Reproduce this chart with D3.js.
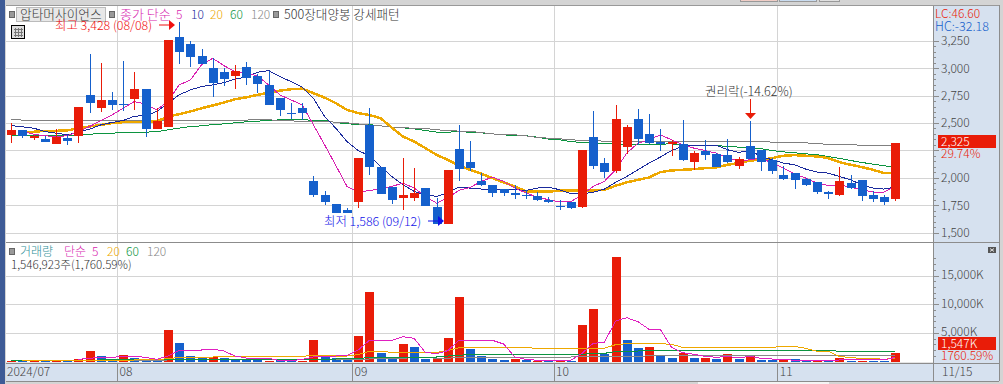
<!DOCTYPE html>
<html>
<head>
<meta charset="utf-8">
<script src="https://cdn.jsdelivr.net/npm/d3@7"></script>
<style>
  html, body { margin: 0; padding: 0; background: #c8c8c8; }
  svg { display: block; }
  text { font-family: "Noto Sans CJK KR", "Noto Sans", sans-serif; font-size: 12px; font-weight: 300; }
</style>
</head>
<body>
<div id="chart"></div>
<script>
// daily candles, left to right
const opens = [2399,2442,2363,2360,2317,2369,2381,2761,2645,2715,2679,2727,2815,2445,2472,3289,3226,3116,3007,2970,2937,3016,2934,2852,2733,2600,2642,1977,1849,1767,1713,1779,2487,2105,1922,1816,1816,1913,1740,1586,2269,2150,1971,1941,1904,1868,1849,1840,1804,1746,1786,1734,2378,2141,2062,2281,2542,2405,2332,2311,2314,2144,2250,2223,2214,2114,2296,2260,2168,2032,2050,1995,1968,1877,1843,1959,1986,1849,1831,1813];
const highs = [2503,2442,2396,2387,2448,2396,2651,3134,3052,2788,3071,2970,2815,2642,3262,3428,3253,3180,3098,3007,3034,3062,2952,2980,2733,2688,2688,2023,1886,1767,1731,2187,2642,2105,1922,2187,2095,1913,1822,2077,2487,2342,2050,1941,1904,1934,1895,1877,1831,1804,1786,2260,2615,2187,2670,2487,2633,2588,2451,2351,2533,2250,2351,2232,2360,2196,2524,2260,2187,2114,2050,2004,1968,1886,2105,2032,1986,1886,1849,2325];
const lows = [2326,2363,2345,2332,2317,2299,2326,2600,2609,2627,2618,2627,2372,2445,2472,3046,3013,3046,2746,2846,2818,2855,2779,2673,2572,2545,2533,1825,1752,1679,1679,1725,2026,1852,1761,1707,1789,1743,1586,1586,1971,2062,1925,1825,1834,1813,1807,1795,1776,1707,1722,1725,2080,1998,2044,2217,2299,2314,2253,2205,2153,2077,2168,2105,2141,2086,2177,2068,2041,1986,1904,1931,1858,1813,1834,1901,1795,1786,1758,1795];
const closes = [2442,2381,2384,2332,2375,2342,2651,2691,2715,2670,2664,2815,2445,2518,3262,3156,3110,3046,2873,2910,2980,2919,2864,2673,2627,2594,2597,1843,1779,1679,1679,2187,2098,1852,1798,1849,1868,1743,1586,2077,2080,2089,1934,1862,1862,1843,1834,1798,1779,1734,1731,2260,2108,2053,2542,2469,2354,2323,2308,2332,2162,2232,2214,2105,2150,2177,2177,2144,2068,1995,1986,1941,1877,1852,1977,1913,1840,1813,1786,2325];

// price moving averages (null = line not started yet)
const ma5 = [null,2427,2402,2387,2381,2387,2427,2472,2527,2578,2639,2700,2676,2624,2700,2852,2897,3034,3095,3028,2973,2958,2934,2852,2761,2715,2670,2487,2305,2117,1925,1871,1889,1901,1925,1956,1910,1834,1773,1819,1889,1916,1971,2010,1971,1910,1865,1828,1804,1783,1786,1849,1925,1971,2077,2229,2320,2351,2396,2351,2305,2275,2253,2229,2184,2159,2168,2184,2138,2092,2041,2001,1956,1934,1941,1919,1895,1874,1874,1925];
const ma10 = [2481,2469,2457,2427,2411,2396,2421,2448,2487,2509,2527,2566,2572,2609,2685,2761,2806,2837,2852,2873,2907,2922,2967,2983,2928,2882,2831,2730,2563,2457,2335,2253,2205,2108,2016,1941,1880,1849,1834,1865,1919,1910,1901,1895,1895,1895,1889,1910,1919,1895,1858,1858,1871,1901,1962,2016,2077,2138,2193,2253,2290,2299,2302,2302,2260,2235,2253,2199,2168,2138,2123,2083,2056,2047,2016,1986,1941,1910,1901,1919];
const ma20 = [null,2417,2424,2433,2433,2436,2457,2472,2487,2503,2512,2515,2515,2518,2563,2585,2609,2639,2664,2691,2721,2739,2761,2782,2800,2812,2818,2776,2736,2685,2624,2594,2578,2548,2463,2381,2335,2275,2214,2168,2117,2077,2041,2001,1962,1925,1880,1877,1877,1886,1889,1889,1889,1895,1931,1962,1986,2007,2056,2071,2077,2083,2092,2098,2123,2138,2162,2168,2184,2205,2211,2205,2199,2184,2147,2123,2102,2077,2047,2047];
const ma60 = [2387,2387,2387,2387,2387,2390,2396,2402,2408,2411,2417,2417,2421,2424,2442,2457,2472,2478,2490,2496,2506,2515,2521,2527,2533,2533,2533,2530,2527,2509,2496,2493,2490,2478,2466,2460,2451,2436,2421,2421,2424,2421,2414,2405,2396,2390,2387,2375,2357,2351,2335,2326,2320,2317,2314,2311,2311,2311,2311,2314,2305,2299,2299,2299,2290,2284,2281,2269,2253,2241,2232,2223,2214,2199,2181,2162,2144,2129,2114,2098];
const ma120 = [2539,2530,2530,2527,2527,2527,2527,2527,2527,2527,2527,2527,2527,2527,2527,2530,2530,2530,2530,2530,2530,2530,2539,2533,2527,2524,2518,2518,2518,2512,2506,2496,2484,2478,2466,2460,2457,2454,2442,2436,2430,2427,2417,2405,2396,2396,2387,2372,2366,2360,2351,2345,2342,2339,2339,2339,2339,2339,2339,2339,2339,2339,2339,2339,2339,2339,2339,2339,2329,2326,2326,2323,2314,2311,2308,2305,2302,2299,2296,2296];

// volume in thousands of shares; 1 = red bar, 0 = blue bar
const volumes = [175,230,230,290,350,230,520,1917,1046,290,1220,700,350,350,5578,3312,1046,700,870,700,290,350,290,175,290,230,175,3835,1046,700,465,4532,12200,1569,870,3137,2614,520,520,4183,11330,2266,1046,520,350,520,350,175,175,175,175,6450,9240,1450,18300,3835,2440,2614,1046,700,1569,700,700,520,1394,520,1046,350,350,465,465,230,230,230,700,230,230,230,230,1547];
const volumeUp = [1,0,1,0,1,0,1,1,0,0,1,0,0,0,1,0,0,0,1,0,0,0,0,1,0,0,1,1,0,0,0,1,1,0,0,1,0,0,1,1,1,0,0,0,0,1,0,1,0,1,0,1,1,0,1,0,0,1,0,0,1,0,1,0,1,0,1,0,0,1,0,0,1,0,1,0,1,0,0,1];

// volume moving averages
const vma5 = [null,null,null,null,null,null,465,639,813,813,988,988,813,465,1046,2034,2092,2092,2266,1917,1046,697,639,639,232,232,465,872,930,1046,1162,2092,3777,3777,3777,4416,4125,1685,1453,1975,3777,3777,3777,3777,3137,872,465,290,290,290,290,1511,3254,3428,7146,7727,7030,5694,5694,2556,1627,1336,988,813,988,697,988,639,523,465,290,290,290,290,349,349,349,349,349,813];
const vma20 = [null,232,232,232,232,232,232,232,232,232,232,349,407,407,581,813,813,813,872,988,988,988,988,988,988,988,988,1162,1162,1046,1046,1278,1859,1859,1685,1685,1685,1685,1685,1975,2498,2498,2498,2498,2498,2498,2498,2382,2382,2382,2382,2382,2382,2382,3021,3196,3196,3196,3196,3079,2556,2556,2556,2556,2556,2556,2556,2556,2556,2731,2731,2382,1859,1859,988,755,639,639,465,697];
const vma60 = [232,232,232,232,232,232,290,290,349,349,349,349,349,349,349,407,465,465,465,523,523,523,523,523,523,523,523,523,523,523,581,639,755,755,872,872,872,872,872,1046,1162,1336,1336,1336,1336,1336,1336,1336,1336,1336,1336,1336,1511,1511,1801,1917,1917,1975,2034,2034,2034,2034,2034,2034,2034,2034,2034,2034,2034,2034,2034,2034,2034,2034,1859,1859,1859,1859,1859,1859];
const vma120 = [232,232,232,232,232,232,232,232,232,232,232,290,290,290,349,349,349,349,349,349,407,407,407,407,407,407,407,465,465,465,465,465,523,639,639,639,813,813,639,639,813,813,813,813,813,872,872,872,872,872,872,930,930,930,930,930,930,1104,1104,1104,1104,1104,1104,1104,1104,1104,1104,1104,1104,1104,1104,1104,1104,1104,1104,1104,1104,1104,1104,1104];

const priceTicks = [3250,3000,2750,2500,2250,2000,1750,1500];
const priceLabels = [3250,3000,2750,2500,2000,1750,1500]; // 2,250 sits under the current price tag
const volumeTicks = [15000,10000,5000];
const monthLabels = [["2024/07",0],["08",10],["09",31],["10",49],["11",69]];

const width = 1003, height = 384;
const plotLeft = 6, plotRight = 933, panelRight = 999;

const svg = d3.select("#chart").append("svg")
  .attr("width", width).attr("height", height)
  .attr("viewBox", `0 0 ${width} ${height}`);

const x = d3.scaleLinear().domain([0, opens.length - 1]).range([11.3, 895.3]);
const yPrice = d3.scaleLinear().domain([1500, 3250]).range([233, 41.3]);
const yVol = d3.scaleLinear().domain([0, 15000]).range([362, 276]);

const fmt = d3.format(",");
const red = "#e91c08", blue = "#1560cc", grid = "#d4d4d4", axisGray = "#8c8c8c";

function drawChrome() {
  svg.append("rect").attr("width", width).attr("height", height).attr("fill", "#d4d4d4");
  svg.append("rect").attr("x", 0).attr("y", 0).attr("width", 5).attr("height", height).attr("fill", "#3e5b96");
  svg.append("rect").attr("x", plotLeft).attr("y", 5).attr("width", plotRight - plotLeft).attr("height", 358).attr("fill", "#fff");
  svg.append("rect").attr("x", plotRight).attr("y", 5).attr("width", panelRight - plotRight).attr("height", 376).attr("fill", "#d6e1ef");
  svg.append("rect").attr("x", plotLeft).attr("y", 363).attr("width", plotRight - plotLeft).attr("height", 18).attr("fill", "#d6e1ef");

  // strips of the toolbar tabs at the top edge and the scroll bar at the bottom
  const tabs = [[740, 777, "#f0cdc6"], [779, 816, "#c9dcf0"], [819, 839, "#e0e0e0"]];
  const bar = svg.append("g").attr("shape-rendering", "crispEdges");
  bar.selectAll("rect").data(tabs).enter().append("rect")
    .attr("x", d => d[0]).attr("y", -1).attr("width", d => d[1] - d[0]).attr("height", 2)
    .attr("fill", d => d[2]).attr("stroke", "#999");
  svg.append("rect").attr("x", 698).attr("y", 382).attr("width", 131).attr("height", 2).attr("fill", "#f4f4f4");
}

function drawGrid() {
  const g = svg.append("g").attr("shape-rendering", "crispEdges");
  g.selectAll(".hp").data(priceTicks).enter().append("line")
    .attr("x1", plotLeft).attr("x2", plotRight)
    .attr("y1", d => yPrice(d)).attr("y2", d => yPrice(d))
    .attr("stroke", grid);
  g.selectAll(".hv").data(volumeTicks).enter().append("line")
    .attr("x1", plotLeft).attr("x2", plotRight)
    .attr("y1", d => yVol(d)).attr("y2", d => yVol(d))
    .attr("stroke", grid);
  g.append("line").attr("x1", plotLeft).attr("x2", plotRight).attr("y1", yVol(0) + 0.5).attr("y2", yVol(0) + 0.5).attr("stroke", "#e4e4e4");

  const months = monthLabels.slice(1).map(d => d[1]);
  g.selectAll(".vg").data(months).enter().append("line")
    .attr("x1", d => x(d - 0.5)).attr("x2", d => x(d - 0.5))
    .attr("y1", 5).attr("y2", 363)
    .attr("stroke", grid);

  // panel frame
  const frame = [[plotLeft, 242, panelRight, 242], [plotLeft, 363, panelRight, 363], [plotLeft, 381, panelRight, 381], [plotRight, 5, plotRight, 381], [panelRight, 5, panelRight, 381]];
  g.selectAll(".fr").data(frame).enter().append("line")
    .attr("x1", d => d[0]).attr("y1", d => d[1]).attr("x2", d => d[2]).attr("y2", d => d[3])
    .attr("stroke", axisGray);
  g.append("rect").attr("x", plotLeft).attr("y", 4.5).attr("width", panelRight - plotLeft).attr("height", 1.5).attr("fill", "#999");
  g.selectAll(".vs").data(months).enter().append("line")
    .attr("x1", d => x(d - 0.5)).attr("x2", d => x(d - 0.5))
    .attr("y1", 363).attr("y2", 381)
    .attr("stroke", axisGray);
}

function drawCandles() {
  const g = svg.append("g").attr("shape-rendering", "crispEdges");
  const idx = d3.range(opens.length);
  const colour = i => closes[i] >= opens[i] ? red : blue;
  g.selectAll(".wick").data(idx).enter().append("line")
    .attr("x1", i => Math.round(x(i)) + 0.5).attr("x2", i => Math.round(x(i)) + 0.5)
    .attr("y1", i => yPrice(highs[i])).attr("y2", i => yPrice(lows[i]))
    .attr("stroke", colour);
  g.selectAll(".body").data(idx).enter().append("rect")
    .attr("x", i => Math.round(x(i)) - 4)
    .attr("width", 9)
    .attr("y", i => yPrice(Math.max(opens[i], closes[i])))
    .attr("height", i => Math.max(1, Math.abs(yPrice(opens[i]) - yPrice(closes[i]))))
    .attr("fill", colour);
}

function drawLines(series, yScale, colour, w) {
  const line = d3.line().defined(d => d != null).x((d, i) => x(i)).y(d => yScale(d));
  svg.append("path").datum(series)
    .attr("d", line)
    .attr("fill", "none")
    .attr("stroke", colour)
    .attr("stroke-width", w)
    .attr("shape-rendering", "crispEdges");
}

function drawVolume() {
  const g = svg.append("g").attr("shape-rendering", "crispEdges");
  g.selectAll("rect").data(volumes).enter().append("rect")
    .attr("x", (d, i) => Math.round(x(i)) - 4)
    .attr("width", 9)
    .attr("y", d => yVol(d))
    .attr("height", d => yVol(0) - yVol(d))
    .attr("fill", (d, i) => volumeUp[i] ? red : blue);
}

function label(px, py, str, colour, size) {
  return svg.append("text").attr("x", px).attr("y", py).text(str)
    .attr("fill", colour).style("font-size", (size || 12) + "px");
}

function drawAxes() {
  const axisText = "#444";
  const g = svg.append("g").attr("shape-rendering", "crispEdges");
  // minor ticks every 50 on price, every 1000K on volume
  const minorP = d3.range(1500, 3300, 50);
  g.selectAll(".mp").data(minorP).enter().append("line")
    .attr("x1", plotRight).attr("x2", plotRight + 3)
    .attr("y1", d => yPrice(d)).attr("y2", d => yPrice(d)).attr("stroke", axisGray);
  g.selectAll(".tp").data(priceTicks).enter().append("line")
    .attr("x1", plotRight).attr("x2", plotRight + 6)
    .attr("y1", d => yPrice(d)).attr("y2", d => yPrice(d)).attr("stroke", axisGray);
  const minorV = d3.range(1000, 19000, 1000);
  g.selectAll(".mv").data(minorV).enter().append("line")
    .attr("x1", plotRight).attr("x2", plotRight + 3)
    .attr("y1", d => yVol(d)).attr("y2", d => yVol(d)).attr("stroke", axisGray);
  g.selectAll(".tv").data(volumeTicks).enter().append("line")
    .attr("x1", plotRight).attr("x2", plotRight + 6)
    .attr("y1", d => yVol(d)).attr("y2", d => yVol(d)).attr("stroke", axisGray);

  priceLabels.forEach(d => label(941, yPrice(d) + 4, fmt(d), axisText));
  volumeTicks.forEach(d => label(941, yVol(d) + 3, fmt(d) + "K", axisText));

  monthLabels.forEach(d => {
    const px = d[1] === 0 ? 7 : x(d[1] - 0.5) + 2;
    label(px, 376, d[0], axisText);
  });
  label(942, 376, "11/15", axisText);

  label(935, 18, "LC:46.60", red);
  label(935, 31, "HC:-32.18", blue, 12.5);

  // current price and volume tags
  svg.append("rect").attr("x", 938).attr("y", 135).attr("width", 58).attr("height", 13).attr("fill", red);
  label(941, 146, "2,325", "#fff");
  label(941, 158, "29.74%", red);
  svg.append("rect").attr("x", 938).attr("y", 337).attr("width", 58).attr("height", 13).attr("fill", red);
  label(941, 348, "1,547K", "#fff");
  label(941, 360, "1760.59%", red);
}

function marker(px, py, colour) {
  svg.append("path")
    .attr("d", `M${px - 15},${py}H${px - 2}`).attr("stroke", colour);
  svg.append("path")
    .attr("d", `M${px - 5},${py - 5}L${px + 1},${py}L${px - 5},${py + 5}Z`).attr("fill", colour);
}

function drawLabels() {
  const dark = "#333";
  const legendBox = (px, py) => svg.append("rect").attr("x", px).attr("y", py).attr("width", 5).attr("height", 6)
    .attr("fill", "#999").attr("stroke", "#666").attr("shape-rendering", "crispEdges");

  legendBox(9, 11);
  svg.append("rect").attr("x", 16).attr("y", 7).attr("width", 89).attr("height", 14)
    .attr("fill", "#e8e8e8").attr("stroke", "#bbb").attr("shape-rendering", "crispEdges");
  label(20, 19, "압타머사이언스", dark, 12.7);
  legendBox(109, 11);
  label(120, 19, "종가 단순", "#d81fb0", 13);
  label(176, 19, "5", "#d81fb0");
  label(191, 19, "10", "#1a2a9c");
  label(210, 19, "20", "#eea800");
  label(230, 19, "60", "#0c9440");
  label(251, 19, "120", "#888");
  legendBox(273, 11);
  label(284, 19, "500장대양봉 강세패턴", dark, 12.6);

  // small table icon
  const icon = svg.append("g").attr("shape-rendering", "crispEdges");
  icon.append("rect").attr("x", 11.5).attr("y", 25.5).attr("width", 13).attr("height", 13).attr("fill", "#ddd").attr("stroke", "#000");
  [15, 18, 21].forEach(p => icon.append("line").attr("x1", p + 0.5).attr("x2", p + 0.5).attr("y1", 28).attr("y2", 37).attr("stroke", "#777"));
  [29, 32, 35].forEach(p => icon.append("line").attr("x1", 14).attr("x2", 23).attr("y1", p + 0.5).attr("y2", p + 0.5).attr("stroke", "#777"));

  label(55, 29.5, "최고 3,428 (08/08)", "#f01010", 12.4);
  marker(174, 25, "#f01010");
  label(324, 225.5, "최저 1,586 (09/12)", "#1010e8", 12.4);
  marker(443, 221, "#1010e8");

  label(705, 96, "권리락(-14.62%)", dark, 12.5);
  svg.append("path").attr("d", "M750.5,99V114").attr("stroke", red).attr("shape-rendering", "crispEdges");
  svg.append("path").attr("d", "M745,113H756L750.5,119Z").attr("fill", red);

  legendBox(9, 248);
  label(20, 256, "거래량", "#2f8f98");
  label(64, 256, "단순", "#d81fb0");
  label(92, 256, "5", "#d81fb0");
  label(107, 256, "20", "#eea800");
  label(126, 256, "60", "#0c9440");
  label(147, 256, "120", "#888");
  label(11, 269, "1,546,923주(1,760.59%)", dark, 11.6);
  svg.append("rect").attr("x", 988).attr("y", 247).attr("width", 8).attr("height", 6).attr("fill", "#555");
  svg.append("path").attr("d", "M990,248.5L994,251.5M994,248.5L990,251.5").attr("stroke", "#fff").attr("stroke-width", 0.8);
}

drawChrome();
drawGrid();
drawVolume();
drawLines(vma120, yVol, "#888", 1);
drawLines(vma60, yVol, "#0c9440", 1);
drawLines(vma20, yVol, "#eea800", 1);
drawLines(vma5, yVol, "#e01fc0", 1);
drawLines(ma60, yPrice, "#0c9440", 1);
drawLines(ma120, yPrice, "#808080", 1);
drawLines(ma20, yPrice, "#eea800", 2.5);
drawLines(ma10, yPrice, "#1a2a9c", 1);
drawLines(ma5, yPrice, "#d81fb0", 1);
drawCandles();
drawAxes();
drawLabels();
</script>
</body>
</html>
